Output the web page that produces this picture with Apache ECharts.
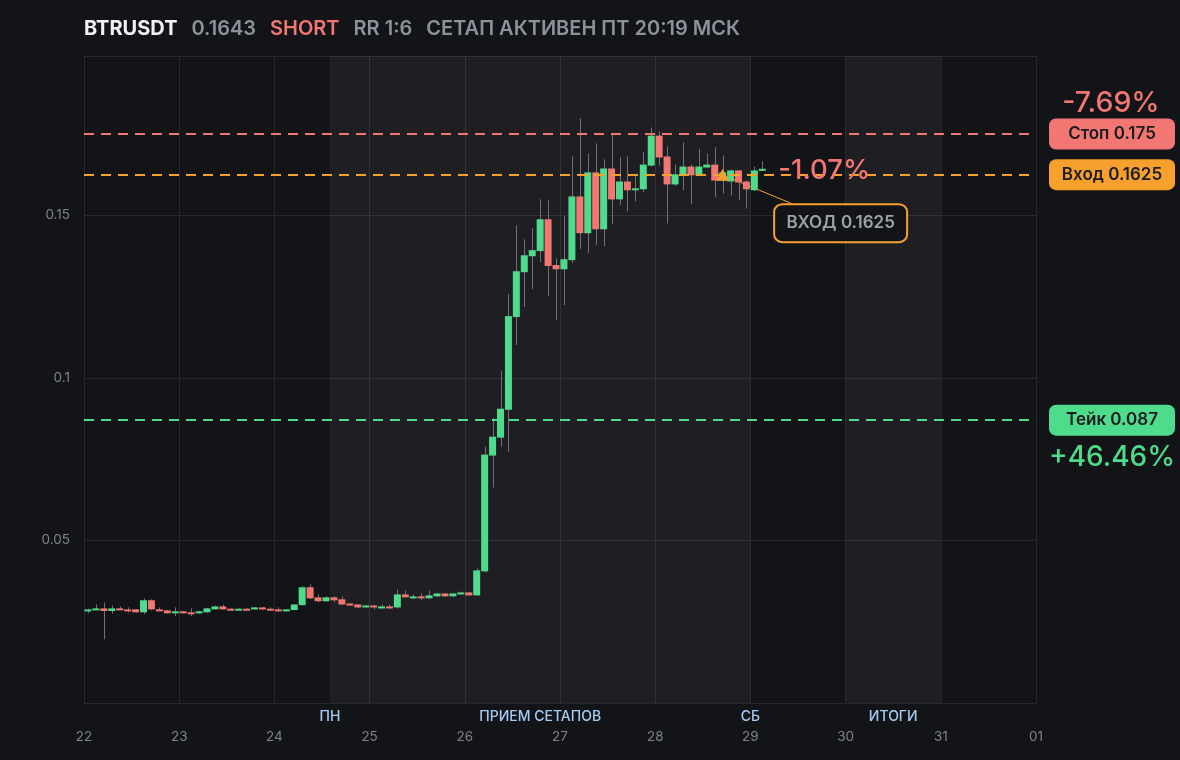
<!DOCTYPE html>
<html>
<head>
<meta charset="utf-8">
<script src="https://cdn.jsdelivr.net/npm/echarts@6/dist/echarts.min.js"></script>
<style>
html,body{margin:0;padding:0;background:#131418;}
#c{width:1180px;height:760px;}
</style>
</head>
<body>
<div id="c"></div>
<script>
// ---- data ----
const dayLabels = ['22','23','24','25','26','27','28','29','30','31','01'];
const candleHours = 2; // 2h candles starting 22, 00:00
const opens  = [0.0282,0.0288,0.0291,0.0283,0.0291,0.0288,0.0288,0.0279,0.0316,0.0288,
                0.0285,0.0276,0.0282,0.0279,0.0276,0.0279,0.0288,0.0297,0.0290,0.0286,
                0.0290,0.0288,0.0294,0.0290,0.0288,0.0282,0.0286,0.0301,0.0356,0.0325,
                0.0313,0.0325,0.0319,0.0306,0.0303,0.0294,0.0300,0.0291,0.0297,0.0294,
                0.0334,0.0322,0.0328,0.0322,0.0328,0.0337,0.0328,0.0334,0.0340,0.0331,
                0.0405,0.0761,0.0816,0.0902,0.1187,0.1325,0.1374,0.1390,0.1488,0.1347,
                0.1334,0.1362,0.1558,0.1445,0.1632,0.1457,0.1644,0.1549,0.1604,0.1577,
                0.1580,0.1653,0.1745,0.1681,0.1595,0.1626,0.1650,0.1623,0.1647,0.1656,
                0.1607,0.1604,0.1638,0.1604,0.1577,0.1638];
const highs  = [0.0290,0.0303,0.0309,0.0300,0.0297,0.0294,0.0289,0.0322,0.0319,0.0294,
                0.0286,0.0294,0.0283,0.0291,0.0284,0.0292,0.0300,0.0303,0.0291,0.0291,
                0.0291,0.0295,0.0295,0.0294,0.0294,0.0289,0.0304,0.0359,0.0365,0.0334,
                0.0328,0.0328,0.0328,0.0307,0.0304,0.0301,0.0301,0.0303,0.0303,0.0349,
                0.0346,0.0334,0.0337,0.0346,0.0338,0.0338,0.0338,0.0343,0.0341,0.0414,
                0.0788,0.0877,0.1021,0.1258,0.1469,0.1426,0.1460,0.1549,0.1546,0.1368,
                0.1497,0.1681,0.1798,0.1690,0.1721,0.1672,0.1748,0.1678,0.1681,0.1620,
                0.1696,0.1770,0.1758,0.1712,0.1656,0.1724,0.1656,0.1705,0.1690,0.1709,
                0.1684,0.1641,0.1640,0.1607,0.1650,0.1666];
const lows   = [0.0276,0.0287,0.0196,0.0275,0.0286,0.0279,0.0278,0.0273,0.0285,0.0284,
                0.0275,0.0267,0.0275,0.0267,0.0275,0.0278,0.0287,0.0287,0.0285,0.0285,
                0.0285,0.0287,0.0287,0.0285,0.0281,0.0281,0.0285,0.0300,0.0319,0.0310,
                0.0312,0.0310,0.0302,0.0299,0.0291,0.0293,0.0288,0.0290,0.0290,0.0291,
                0.0324,0.0319,0.0316,0.0321,0.0327,0.0327,0.0325,0.0333,0.0330,0.0330,
                0.0402,0.0663,0.0788,0.0773,0.1101,0.1218,0.1273,0.1356,0.1252,0.1178,
                0.1224,0.1353,0.1396,0.1383,0.1408,0.1405,0.1472,0.1531,0.1512,0.1543,
                0.1571,0.1650,0.1653,0.1475,0.1590,0.1577,0.1534,0.1620,0.1645,0.1555,
                0.1567,0.1561,0.1546,0.1521,0.1575,0.1636];
const closes = [0.0288,0.0291,0.0283,0.0291,0.0287,0.0282,0.0279,0.0316,0.0288,0.0285,
                0.0276,0.0282,0.0276,0.0273,0.0282,0.0291,0.0297,0.0288,0.0286,0.0290,
                0.0286,0.0294,0.0288,0.0286,0.0282,0.0288,0.0303,0.0356,0.0322,0.0313,
                0.0325,0.0316,0.0303,0.0300,0.0294,0.0300,0.0294,0.0297,0.0291,0.0334,
                0.0325,0.0328,0.0322,0.0331,0.0337,0.0328,0.0337,0.0340,0.0331,0.0408,
                0.0764,0.0819,0.0905,0.1190,0.1328,0.1377,0.1393,0.1488,0.1344,0.1334,
                0.1365,0.1558,0.1445,0.1632,0.1457,0.1644,0.1549,0.1604,0.1577,0.1583,
                0.1656,0.1745,0.1678,0.1595,0.1626,0.1650,0.1623,0.1650,0.1656,0.1607,
                0.1632,0.1638,0.1601,0.1580,0.1638,0.1643];

const symbolName = 'BTRUSDT';
const lastPrice = 0.1643;
const sideText = 'SHORT';
const rrText = 'RR 1:6';
const statusText = 'СЕТАП АКТИВЕН ПТ 20:19 МСК';
const stopPrice = 0.175, entryPrice = 0.1625, takePrice = 0.087;
const entryCandle = 80;
const currentPnlText = '-1.07%';

// zones in days from 22 00:00
const zoneStarts = [2 + 14/24, 8];
const zoneEnds   = [7, 9];
const zoneNames  = ['ПРИЕМ СЕТАПОВ', 'ИТОГИ'];
const edgeMarks  = [2 + 14/24, 7];
const edgeNames  = ['ПН', 'СБ'];

// ---- style ----
const BG = '#131418';
const GREEN = '#4fdb8c';
const RED = '#f27672';
const ORANGE = '#f7a02e';
const GRID = '#27282d';
const AXISTXT = '#7f838c';
const ZONETXT = '#a6cbf3';
const FONT = 'Inter, "Noto Sans", sans-serif';

const candleDays = candleHours / 24;
const xOf = i => (i + 0.5) * candleDays;
const candleData = opens.map((o, i) => [xOf(i), o, closes[i], lows[i], highs[i]]);

const chart = echarts.init(document.getElementById('c'), null, {renderer: 'canvas'});

const option = {
  backgroundColor: BG,
  animation: false,
  textStyle: {fontFamily: FONT},
  title: {
    left: 84, top: 19, padding: 0,
    text: '{a|' + symbolName + '}{g| }{b|' + lastPrice + '}{g| }{c|' + sideText + '}{g| }{b|' + rrText + '}{g| }{b|' + statusText + '}',
    textStyle: {
      rich: {
        a: {fontFamily: FONT, fontSize: 20, fontWeight: 700, color: '#f1f2f4'},
        b: {fontFamily: FONT, fontSize: 20, fontWeight: 600, color: '#8d919b'},
        c: {fontFamily: FONT, fontSize: 20, fontWeight: 600, color: RED},
        g: {width: 14, fontSize: 20}
      }
    }
  },
  grid: {left: 84, right: 144, top: 56, bottom: 57},
  xAxis: {
    type: 'value', min: 0, max: 10, interval: 1,
    axisLine: {show: false}, axisTick: {show: false},
    splitLine: {show: true, lineStyle: {color: GRID, width: 1}},
    axisLabel: {
      color: AXISTXT, fontSize: 13.5, fontFamily: FONT, margin: 27,
      showMinLabel: true, showMaxLabel: true,
      formatter: v => dayLabels[Math.round(v)]
    }
  },
  yAxis: {
    type: 'value', min: 0, max: 0.199, interval: 0.05,
    position: 'left',
    axisLine: {show: false}, axisTick: {show: false},
    splitLine: {show: true, lineStyle: {color: GRID, width: 1}},
    axisLabel: {
      color: AXISTXT, fontSize: 13.5, fontFamily: FONT, margin: 14,
      showMinLabel: false, showMaxLabel: false
    }
  },
  series: [
    {
      name: 'zones', type: 'custom', data: [], silent: true,
      renderItem: () => null,
      markArea: {
        silent: true,
        itemStyle: {color: 'rgba(255,255,255,0.05)'},
        label: {show: true, position: 'bottom', distance: 7, color: ZONETXT, fontSize: 14, fontWeight: 500, fontFamily: FONT},
        data: zoneStarts.map((s, i) => [{xAxis: s, name: zoneNames[i]}, {xAxis: zoneEnds[i]}])
      },
      z: 1
    },
    {
      name: 'candles', type: 'custom',
      data: candleData,
      encode: {x: 0, y: [1, 2, 3, 4]},
      renderItem: (params, api) => {
        const x = api.value(0), o = api.value(1), c = api.value(2), l = api.value(3), h = api.value(4);
        const pO = api.coord([x, o]), pC = api.coord([x, c]);
        const pH = api.coord([x, h]), pL = api.coord([x, l]);
        const w = api.size([candleDays, 0])[0] * 0.88;
        const top = Math.min(pO[1], pC[1]);
        const bot = Math.max(pO[1], pC[1]);
        const cx = Math.round(pO[0]) + 0.5;
        return {
          type: 'group',
          children: [
            {type: 'line', shape: {x1: cx, y1: pH[1], x2: cx, y2: pL[1]}, style: {stroke: '#6e7179', lineWidth: 1}},
            {type: 'rect', shape: {x: pO[0] - w / 2, y: top, width: w, height: Math.max(bot - top, 2)},
             style: {fill: c >= o ? GREEN : RED}}
          ]
        };
      },
      markLine: {
        silent: true, symbol: ['none', 'none'], precision: 6,
        label: {show: false},
        data: [
          {yAxis: stopPrice, lineStyle: {color: RED, type: [10, 7], width: 2}},
          {yAxis: entryPrice, lineStyle: {color: ORANGE, type: [10, 7], width: 2}},
          {yAxis: takePrice, lineStyle: {color: GREEN, type: [10, 7], width: 2}}
        ]
      },
      markPoint: {
        silent: true,
        data: [{coord: [xOf(entryCandle), entryPrice], symbol: 'triangle', symbolSize: [13, 12], itemStyle: {color: ORANGE}}],
        label: {show: false}
      },
      z: 3
    }
  ]
};

chart.setOption(option);

// ---- annotations anchored to axis coordinates ----
const pEntry = chart.convertToPixel({gridIndex: 0}, [xOf(entryCandle), entryPrice]);
const pLast = chart.convertToPixel({gridIndex: 0}, [xOf(opens.length - 1), entryPrice]);
const yStop = chart.convertToPixel({yAxisIndex: 0}, stopPrice);
const yEntry = chart.convertToPixel({yAxisIndex: 0}, entryPrice);
const yTake = chart.convertToPixel({yAxisIndex: 0}, takePrice);
const gridRightX = chart.convertToPixel({xAxisIndex: 0}, 10);
const gridBottomY = chart.convertToPixel({yAxisIndex: 0}, 0);

const stopPct = ((entryPrice - stopPrice) / entryPrice * 100).toFixed(2) + '%';
const takePct = '+' + ((entryPrice - takePrice) / entryPrice * 100).toFixed(2) + '%';

const pillX = gridRightX + 13, pillW = 126, pillH = 31;
function pill(y, color, text) {
  return {
    type: 'group', z: 100,
    children: [
      {type: 'rect', shape: {x: pillX, y: y - pillH / 2, width: pillW, height: pillH, r: 7}, style: {fill: color}},
      {type: 'text', x: pillX + pillW / 2, y: y,
       style: {text: text, fill: '#1b1c1f', font: '600 17px ' + FONT, align: 'center', verticalAlign: 'middle'}}
    ]
  };
}

const edgeTexts = edgeMarks.map((m, i) => ({
  type: 'text', z: 100,
  x: chart.convertToPixel({xAxisIndex: 0}, m), y: gridBottomY + 14,
  style: {text: edgeNames[i], fill: ZONETXT, font: '500 14px ' + FONT, align: 'center', verticalAlign: 'middle'}
}));

const boxX = pEntry[0] + 51.5, boxY = pEntry[1] + 29.5, boxW = 133, boxH = 38;

chart.setOption({
  graphic: [
    pill(yStop, RED, 'Стоп ' + stopPrice),
    pill(yEntry, ORANGE, 'Вход ' + entryPrice),
    pill(yTake, GREEN, 'Тейк ' + takePrice),
    {type: 'text', z: 100, x: pillX + pillW / 2 - 1, y: yStop - 31,
     style: {text: stopPct, fill: RED, font: '500 28.5px ' + FONT, align: 'center', verticalAlign: 'middle'}},
    {type: 'text', z: 100, x: pillX + pillW / 2, y: yTake + 37,
     style: {text: takePct, fill: GREEN, font: '500 28px ' + FONT, align: 'center', verticalAlign: 'middle'}},
    {type: 'line', z: 1, shape: {x1: pEntry[0] + 4, y1: pEntry[1] + 2, x2: pEntry[0] + 70.5, y2: boxY},
     style: {stroke: ORANGE, lineWidth: 1}},
    {type: 'text', z: 100, x: pLast[0] + 16, y: pEntry[1] - 4,
     style: {text: currentPnlText, fill: RED, font: '500 27.5px ' + FONT, align: 'left', verticalAlign: 'middle'}},
    {type: 'rect', z: 100, shape: {x: boxX, y: boxY, width: boxW, height: boxH, r: 8},
     style: {fill: BG, stroke: ORANGE, lineWidth: 2}},
    {type: 'text', z: 101, x: boxX + boxW / 2, y: boxY + boxH / 2,
     style: {text: 'ВХОД ' + entryPrice, fill: '#9da1aa', font: '600 17px ' + FONT, align: 'center', verticalAlign: 'middle'}}
  ].concat(edgeTexts)
});
</script>
</body>
</html>
